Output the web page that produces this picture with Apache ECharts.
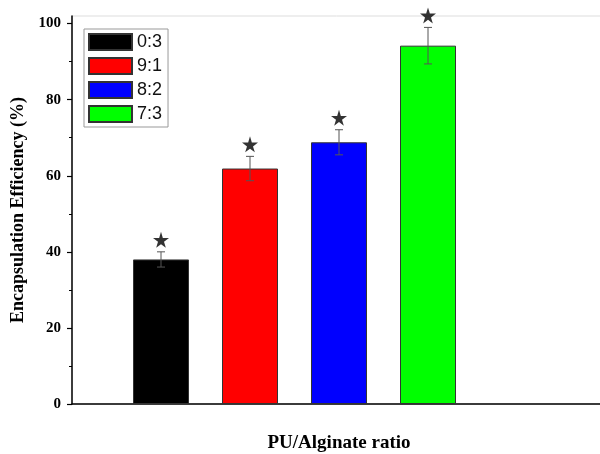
<!DOCTYPE html>
<html>
<head>
<meta charset="utf-8">
<script src="https://cdn.jsdelivr.net/npm/echarts@6/dist/echarts.min.js"></script>
<style>
  html, body { margin: 0; padding: 0; background: #fff; }
  #chart { width: 600px; height: 454px; }
</style>
</head>
<body>
<div id="chart"></div>
<script>
// Encapsulation efficiency for each PU/Alginate ratio
const ratios = ['0:3', '9:1', '8:2', '7:3'];
const positions = [1, 2, 3, 4];
const efficiency = [38.0, 61.9, 68.8, 94.2];
const errors = [2.0, 3.2, 3.3, 4.8];
const colors = ['#000000', '#ff0000', '#0000ff', '#00ff00'];
const yTicks = [0, 20, 40, 60, 80, 100];

const serif = '"Liberation Serif", "Times New Roman", serif';
const sans = '"Liberation Sans", Arial, sans-serif';
const starPath = 'path://M50,0 L61,35 L98,35 L68,57 L79,91 L50,70 L21,91 L32,57 L2,35 L39,35 Z';

const barSeries = ratios.map((name, i) => ({
  name: name,
  type: 'bar',
  barWidth: 56,
  barGap: '-100%',
  itemStyle: { color: colors[i], borderColor: '#333', borderWidth: 1 },
  data: [[positions[i], efficiency[i]]],
  z: 2
}));

const errorSeries = {
  type: 'custom',
  silent: true,
  data: positions.map((p, i) => [p, efficiency[i] - errors[i], efficiency[i] + errors[i]]),
  renderItem: function (params, api) {
    const lo = api.coord([api.value(0), api.value(1)]);
    const hi = api.coord([api.value(0), api.value(2)]);
    const half = 4;
    const style = { stroke: '#555', lineWidth: 1 };
    return {
      type: 'group',
      children: [
        { type: 'line', shape: { x1: lo[0], y1: lo[1], x2: hi[0], y2: hi[1] }, style: style },
        { type: 'line', shape: { x1: hi[0] - half, y1: hi[1], x2: hi[0] + half, y2: hi[1] }, style: style },
        { type: 'line', shape: { x1: lo[0] - half, y1: lo[1], x2: lo[0] + half, y2: lo[1] }, style: style }
      ]
    };
  },
  z: 3
};

const starSeries = {
  type: 'scatter',
  silent: true,
  symbol: starPath,
  symbolSize: 16,
  symbolOffset: [0, -12],
  itemStyle: { color: '#000' },
  data: positions.map((p, i) => [p, efficiency[i] + errors[i]]),
  z: 4
};

const chart = echarts.init(document.getElementById('chart'), null, { renderer: 'canvas' });
chart.setOption({
  animation: false,
  backgroundColor: '#fff',
  grid: {
    left: 72, right: -6, top: 16, bottom: 50,
    outerBoundsMode: 'none',
    containLabel: false,
    show: true, borderColor: '#dddddd', borderWidth: 1
  },
  legend: {
    orient: 'vertical',
    left: 84, top: 29,
    padding: [4, 6, 4, 4],
    icon: 'rect',
    itemWidth: 43, itemHeight: 16, itemGap: 6,
    borderColor: '#999', borderWidth: 1,
    data: ratios,
    textStyle: { fontFamily: sans, fontSize: 18, color: '#111', lineHeight: 16 }
  },
  xAxis: {
    type: 'value',
    min: 0, max: 6,
    name: 'PU/Alginate ratio',
    nameLocation: 'middle',
    nameGap: 30,
    nameTextStyle: { fontFamily: serif, fontWeight: 'bold', fontSize: 19, color: '#000' },
    axisLine: { lineStyle: { color: '#000', width: 1.5 } },
    axisTick: { show: false },
    axisLabel: { show: false },
    splitLine: { show: false }
  },
  yAxis: {
    type: 'value',
    min: 0, max: 102, interval: 20,
    name: 'Encapsulation Efficiency (%)',
    nameLocation: 'middle',
    nameGap: 45,
    nameTextStyle: { fontFamily: serif, fontWeight: 'bold', fontSize: 18, color: '#000' },
    axisLine: { show: true, lineStyle: { color: '#000', width: 1.5 } },
    axisTick: { show: true, length: 5, customValues: yTicks, lineStyle: { color: '#000', width: 1.2 } },
    minorTick: { show: true, splitNumber: 2, length: 3, lineStyle: { color: '#000', width: 1 } },
    axisLabel: {
      customValues: yTicks,
      margin: 11,
      fontFamily: serif, fontWeight: 'bold', fontSize: 15, color: '#000'
    },
    splitLine: { show: false }
  },
  series: [...barSeries, errorSeries, starSeries]
});
</script>
</body>
</html>
